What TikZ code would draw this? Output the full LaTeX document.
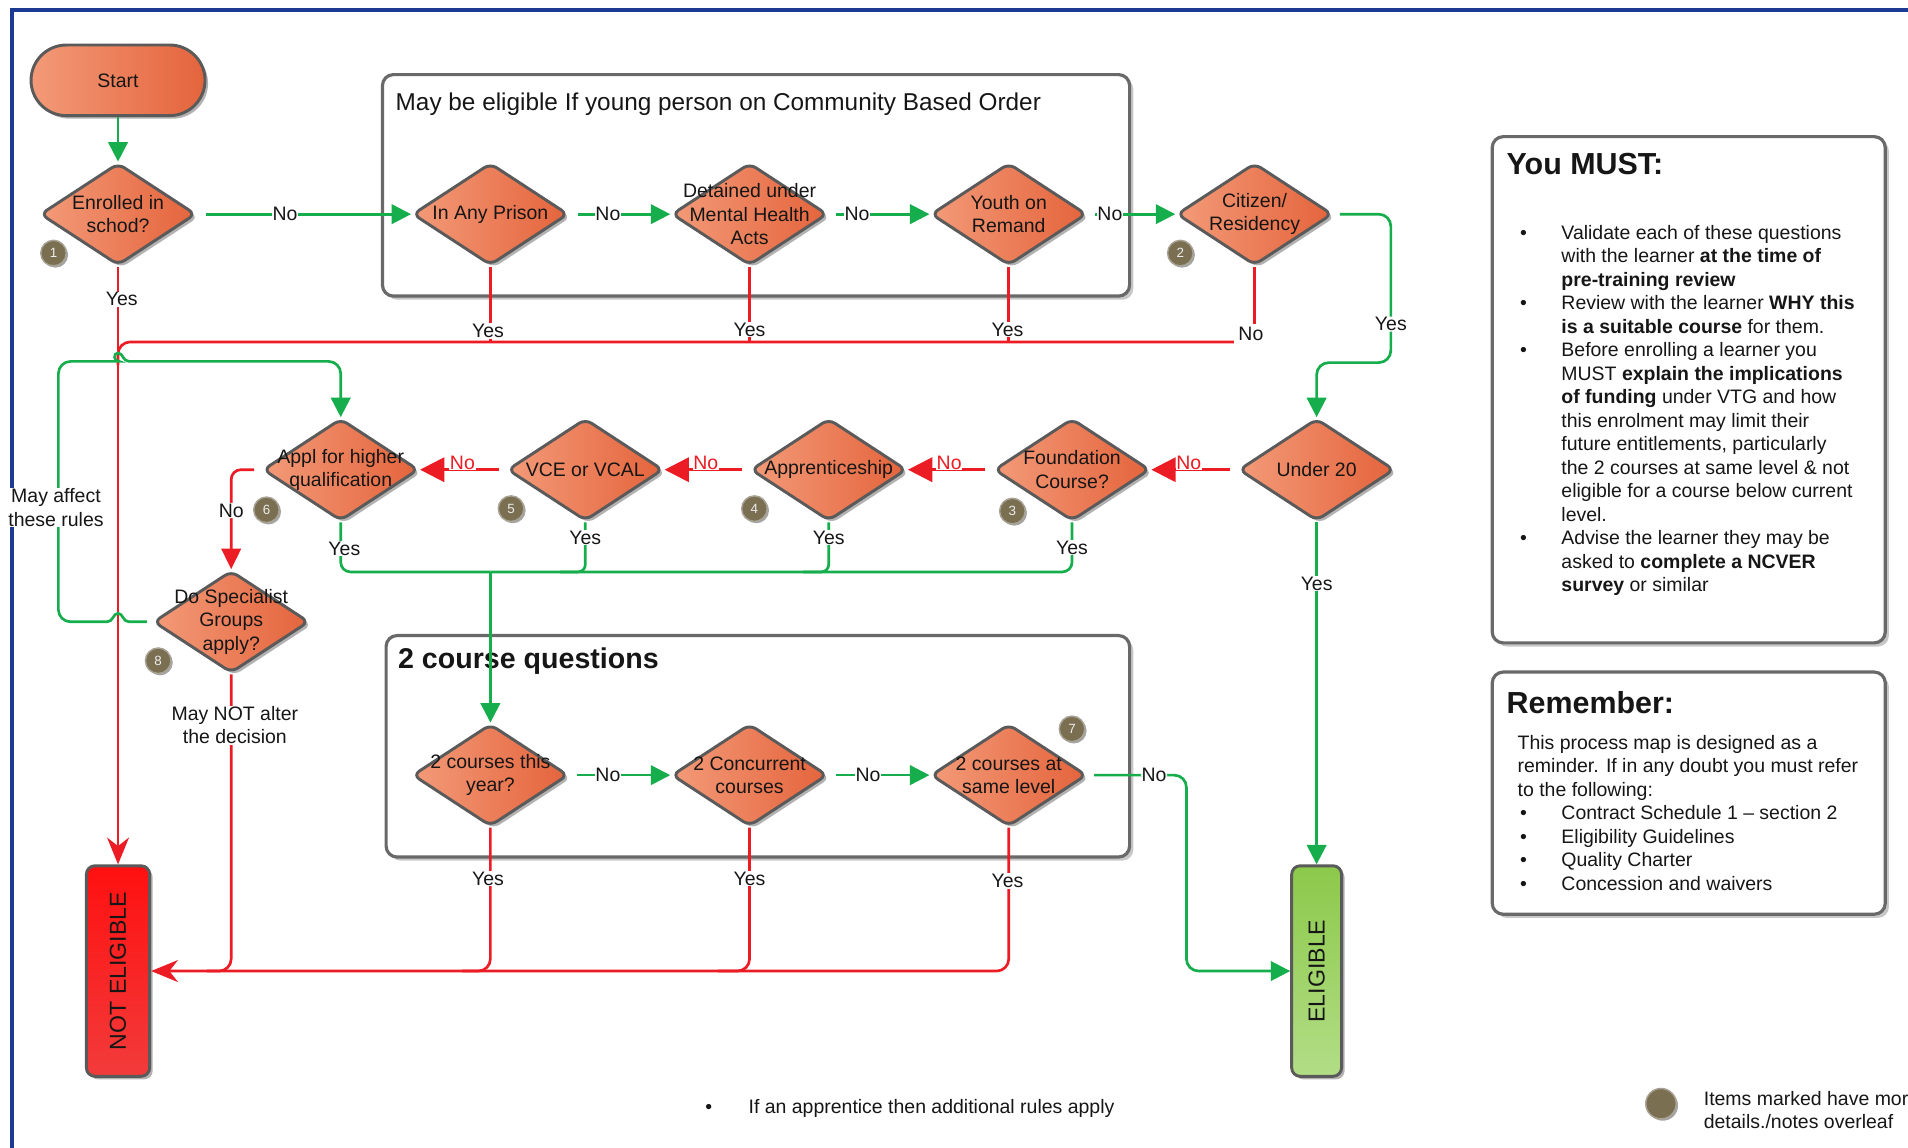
\documentclass[tikz,border=0pt]{standalone}
\usepackage{fontspec}
\setmainfont{Liberation Sans}
\usetikzlibrary{shapes.geometric,arrows.meta,shadows}

\definecolor{frameblue}{HTML}{1B3A93}
\definecolor{flowgreen}{HTML}{16AD4C}
\definecolor{flowred}{HTML}{EC1C24}
\definecolor{orlight}{HTML}{F39A78}
\definecolor{ordark}{HTML}{E4643C}
\definecolor{shapeedge}{HTML}{5A5A5A}
\definecolor{boxedge}{HTML}{696969}
\definecolor{badgefill}{HTML}{7B6F52}
\definecolor{badgeedge}{HTML}{A7A294}
\definecolor{redtop}{HTML}{FF1010}
\definecolor{redbot}{HTML}{F23B3B}
\definecolor{greentop}{HTML}{8CC94A}
\definecolor{greenbot}{HTML}{B2DD86}
\definecolor{ink}{HTML}{161616}

\newcommand{\txtsize}{\fontsize{16}{19.3}\selectfont}
\newcommand{\headsize}{\fontsize{25}{30}\selectfont}

\tikzset{
  softshadow/.style={drop shadow={shadow xshift=2.5pt, shadow yshift=-2.5pt, fill=black, opacity=0.3}},
  dia/.style={diamond, draw=shapeedge, line width=2.4pt, rounded corners=6pt,
    minimum width=128pt, minimum height=84pt, inner sep=0pt,
    left color=orlight, right color=ordark, softshadow},
  dtext/.style={align=center, inner sep=0pt, font=\txtsize, text=ink},
  term/.style={rectangle, rounded corners=29pt, minimum width=143pt, minimum height=58pt,
    draw=shapeedge, line width=2.4pt, left color=orlight, right color=ordark, softshadow,
    font=\txtsize, text=ink},
  endbox/.style={rectangle, rounded corners=7pt, draw=shapeedge, line width=2.4pt,
    minimum height=173pt, softshadow},
  grp/.style={draw=boxedge, line width=2.6pt, rounded corners=9pt, fill=white,
    inner sep=0pt, drop shadow={shadow xshift=3pt, shadow yshift=-3pt, fill=black, opacity=0.22}},
  badge/.style={circle, fill=badgefill, draw=badgeedge, line width=1.2pt, minimum size=21pt,
    inner sep=0pt, font=\fontsize{11}{12}\selectfont, text=white!85!gray,
    drop shadow={shadow xshift=1.5pt, shadow yshift=-1.5pt, fill=black, opacity=0.35}},
  gl/.style={draw=flowgreen, line width=2.2pt},
  rl/.style={draw=flowred, line width=2.2pt},
  gtip/.style={-{Triangle[length=16pt,width=16pt]}},
  rtip/.style={-{Triangle[length=20pt,width=20pt]}},
  stip/.style={-{Stealth[length=22pt,width=18pt,inset=7pt]}},
  lab/.style={fill=white, inner sep=0.6pt, font=\txtsize, text=ink},
  rlab/.style={lab, text=flowred},
}

\begin{document}
\begin{tikzpicture}[x=1pt,y=-1pt]
\useasboundingbox (0,0) rectangle (1568,943);
\clip (0,0) rectangle (1568,943);
\fill[white] (0,0) rectangle (1568,943);

% page frame
\draw[frameblue, line width=3pt] (1600,8) -- (10,8) -- (10,960);

% grouping containers
\node[grp, minimum width=614pt, minimum height=182pt, anchor=north west] (cbo) at (313,60) {};
\node[anchor=west, inner sep=0pt, font=\fontsize{20}{24}\selectfont, text=ink] (cbotitle) at (325,86)
  {May be eligible If young person on Community Based Order};
\node[grp, minimum width=611pt, minimum height=182pt, anchor=north west] (twoc) at (316,521) {};
\node[anchor=west, inner sep=0pt, font=\bfseries\fontsize{23.5}{28}\selectfont, text=ink] (twoctitle) at (327,543)
  {2 course questions};

% side panels
\node[grp, minimum width=323pt, minimum height=416pt, anchor=north west] (must) at (1225,111) {};
\node[anchor=west, inner sep=0pt, font=\bfseries\headsize, text=ink] (musttitle) at (1238,135) {You MUST:};
\node[anchor=north west, inner sep=0pt, font=\txtsize, text=ink] (mustlist) at (1249,183) {%
\begin{tabular}{@{}l@{}l@{}}
\makebox[34pt][l]{•} & Validate each of these questions\\
 & with the learner \textbf{at the time of}\\
 & \textbf{pre-training review}\\
\makebox[34pt][l]{•} & Review with the learner \textbf{WHY this}\\
 & \textbf{is a suitable course} for them.\\
\makebox[34pt][l]{•} & Before enrolling a learner you\\
 & MUST \textbf{explain the implications}\\
 & \textbf{of funding} under VTG and how\\
 & this enrolment may limit their\\
 & future entitlements, particularly\\
 & the 2 courses at same level \& not\\
 & eligible for a course below current\\
 & level.\\
\makebox[34pt][l]{•} & Advise the learner they may be\\
 & asked to \textbf{complete a NCVER}\\
 & \textbf{survey} or similar
\end{tabular}};

\node[grp, minimum width=323pt, minimum height=199pt, anchor=north west] (rem) at (1225,551) {};
\node[anchor=west, inner sep=0pt, font=\bfseries\headsize, text=ink] (remtitle) at (1238,577) {Remember:};
\node[anchor=north west, inner sep=0pt, font=\txtsize, text=ink] (remlist) at (1247,602) {%
\begin{tabular}{@{}l@{}l@{}}
\multicolumn{2}{@{}l@{}}{This process map is designed as a}\\
\multicolumn{2}{@{}l@{}}{reminder. If in any doubt you must refer}\\
\multicolumn{2}{@{}l@{}}{to the following:}\\
\makebox[36pt][l]{\hspace{2pt}•} & Contract Schedule 1 – section 2\\
\makebox[36pt][l]{\hspace{2pt}•} & Eligibility Guidelines\\
\makebox[36pt][l]{\hspace{2pt}•} & Quality Charter\\
\makebox[36pt][l]{\hspace{2pt}•} & Concession and waivers
\end{tabular}};

% terminals
\node[term] (start) at (97,66) {Start};
\node[endbox, minimum width=52pt, top color=redtop, bottom color=redbot] (ne) at (97,798) {};
\node[rotate=90, inner sep=0pt, font=\fontsize{19}{22}\selectfont, text=ink] (netext) at (ne) {NOT ELIGIBLE};
\node[endbox, minimum width=41pt, top color=greentop, bottom color=greenbot] (el) at (1082,798) {};
\node[rotate=90, inner sep=0pt, font=\fontsize{19}{22}\selectfont, text=ink] (eltext) at (el) {ELIGIBLE};

% decisions, first row
\node[dia] (enr) at (97,176) {};
\node[dtext] (enrt) at (enr) {Enrolled in\\schod?};
\node[dia] (pris) at (403,176) {};
\node[dtext] (prist) at (pris) {In Any Prison};
\node[dia] (det) at (616,176) {};
\node[dtext] (dett) at (det) {Detained under\\Mental Health\\Acts};
\node[dia] (youth) at (829,176) {};
\node[dtext] (youtht) at (youth) {Youth on\\Remand};
\node[dia] (citz) at (1031,176) {};
\node[dtext] (citzt) at (citz) {Citizen/\\Residency};

% decisions, second row
\node[dia] (u20) at (1082,386) {};
\node[dtext] (u20t) at (u20) {Under 20};
\node[dia] (found) at (881,386) {};
\node[dtext] (foundt) at (found) {Foundation\\Course?};
\node[dia] (appr) at (681,386) {};
\node[dtext] (apprt) at (appr) {Apprenticeship};
\node[dia] (vce) at (481,386) {};
\node[dtext] (vcet) at (vce) {VCE or VCAL};
\node[dia] (appl) at (280,386) {};
\node[dtext] (applt) at (appl) {Appl for higher\\qualification};
\node[dia] (spec) at (190,511) {};
\node[dtext] (spect) at (spec) {Do Specialist\\Groups\\apply?};

% decisions, two course questions
\node[dia] (cone) at (403,637) {};
\node[dtext] (conet) at (cone) {2 courses this\\year?};
\node[dia] (ctwo) at (616,637) {};
\node[dtext] (ctwot) at (ctwo) {2 Concurrent\\courses};
\node[dia] (cthree) at (829,637) {};
\node[dtext] (cthreet) at (cthree) {2 courses at\\same level};

% note markers
\node[badge] (b1) at (44,208) {1};
\node[badge] (b2) at (970,208) {2};
\node[badge] (b3) at (832,420) {3};
\node[badge] (b4) at (620,418) {4};
\node[badge] (b5) at (420,418) {5};
\node[badge] (b6) at (219,419) {6};
\node[badge] (b7) at (881,599) {7};
\node[badge] (b8) at (130,543) {8};

% ---- connectors: first row
\draw[gl, gtip] (start) -- (enr);
\draw[gl, gtip, shorten <=7pt] (enr.east) -- node[lab, pos=0.41] (n1) {No} (pris.west);
\draw[gl, gtip, shorten <=7pt] (pris.east) -- node[lab, pos=0.38] (n2) {No} (det.west);
\draw[gl, gtip, shorten <=6pt] (det.east) -- node[lab, pos=0.28] (n3) {No} (youth.west);
\draw[gl, gtip, shorten <=6pt] (youth.east) -- node[lab, pos=0.25] (n4) {No} (citz.west);
\draw[gl, gtip, rounded corners=10pt, shorten <=5pt] (citz.east) -- (1143,176)
  -- node[lab, pos=0.74] (y5) {Yes} (1143,298) -- (1082,298) -- (u20.north);

% red collector to NOT ELIGIBLE
\draw[rl] (pris.south) -- (403,281);
\draw[rl] (det.south) -- (616,281);
\draw[rl] (youth.south) -- (829,281);
\draw[rl] (citz.south) -- (1031,266);
\draw[rl, rounded corners=10pt] (1014,281) -- (97,281) -- (97,300);
\draw[rl, stip] (enr.south) -- (ne.north);
\node[lab] (y0) at (100,246) {Yes};
\node[lab] (y1) at (401,272) {Yes};
\node[lab] (y2) at (616,271) {Yes};
\node[lab] (y3) at (828,271) {Yes};
\node[lab] (no5) at (1028,274) {No};

% ---- second row (right to left)
\draw[rl, rtip, shorten <=6pt] (u20.west) -- (found.east);
\node[rlab] (r1) at (977,380) {No};
\draw[rl, rtip, shorten <=6pt] (found.west) -- (appr.east);
\node[rlab] (r2) at (780,380) {No};
\draw[rl, rtip, shorten <=6pt] (appr.west) -- (vce.east);
\node[rlab] (r3) at (580,380) {No};
\draw[rl, rtip, shorten <=6pt] (vce.west) -- (appl.east);
\node[rlab] (r4) at (380,380) {No};

\draw[rl, {Triangle[length=17pt,width=16pt]}-, rounded corners=8pt, shorten >=6pt]
  (spec.north) -- node[lab, pos=0.59] (n6) {No} (190,386) -- (appl.west);

% feedback loop from specialist groups, hopping over the red line
\draw[gl, gtip, shorten <=4pt] (spec.west) -- (106,511)
  .. controls (101,511) and (101,504) .. (97,504)
  .. controls (93,504) and (93,511) .. (88,511)
  [rounded corners=10pt] -- (48,511) -- (48,297) -- (88,297)
  [sharp corners] .. controls (93,297) and (93,290) .. (97,290)
  .. controls (101,290) and (101,297) .. (106,297)
  [rounded corners=10pt] -- (280,297) -- (appl.north);
\node[lab, align=center] (maff) at (46,417) {May affect\\these rules};

% yes branches joining into the two course questions
\draw[gl, rounded corners=8pt] (appl.south) -- (280,470) -- (403,470);
\draw[gl, rounded corners=8pt] (found.south) -- (881,470) -- (403,470);
\draw[gl, rounded corners=6pt] (vce.south) -- (481,470) -- (460,470);
\draw[gl, rounded corners=6pt] (appr.south) -- (681,470) -- (660,470);
\draw[gl, gtip] (403,470) -- (cone.north);
\node[lab] (y6) at (283,451) {Yes};
\node[lab] (y7) at (481,442) {Yes};
\node[lab] (y8) at (681,442) {Yes};
\node[lab] (y9) at (881,450) {Yes};

% specialist groups outcome
\draw[rl, rounded corners=10pt] (spec.south) -- (190,798) -- (170,798);
\node[lab, align=center] (mnot) at (193,596) {May NOT alter\\the decision};

% under 20 to eligible
\draw[gl, gtip] (u20.south) -- node[lab, pos=0.18] (y10) {Yes} (el.north);

% ---- two course questions
\draw[gl, gtip, shorten <=6pt] (cone.east) -- node[lab, pos=0.38] (n7) {No} (ctwo.west);
\draw[gl, gtip, shorten <=6pt] (ctwo.east) -- node[lab, pos=0.39] (n8) {No} (cthree.west);
\draw[gl, gtip, rounded corners=10pt, shorten <=5pt] (cthree.east)
  -- node[lab, pos=0.67] (n9) {No} (975,637) -- (975,798) -- (el.west);

\draw[rl, rounded corners=10pt] (cone.south) -- (403,798) -- (380,798);
\draw[rl, rounded corners=10pt] (ctwo.south) -- (616,798) -- (590,798);
\draw[rl, stip, rounded corners=10pt] (cthree.south) -- (829,798) -- (ne.east);
\node[lab] (y11) at (401,722) {Yes};
\node[lab] (y12) at (616,722) {Yes};
\node[lab] (y13) at (828,724) {Yes};

% footnotes
\node[anchor=west, inner sep=0pt, font=\txtsize, text=ink] (note) at (579.5,911)
  {\makebox[35.5pt][l]{•}If an apprentice then additional rules apply};
\node[badge, minimum size=25pt] (legend) at (1365,907) {};
\node[anchor=west, align=left, inner sep=0pt, font=\fontsize{16}{19}\selectfont, text=ink] (legendtext) at (1400,912)
  {Items marked have mor\\details./notes overleaf};
\end{tikzpicture}
\end{document}
